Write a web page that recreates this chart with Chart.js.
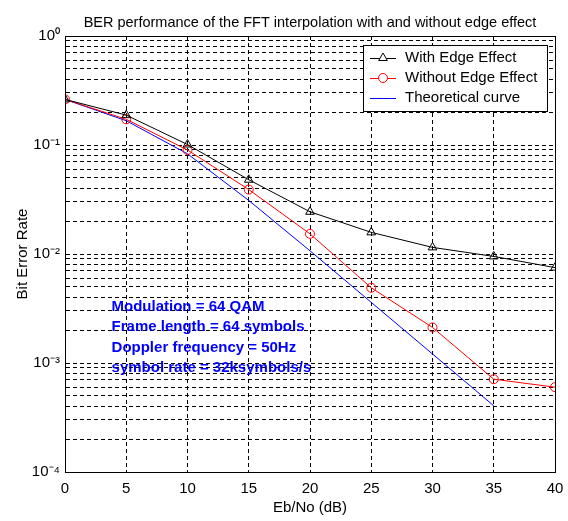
<!DOCTYPE html>
<html><head><meta charset="utf-8">
<script src="https://cdn.jsdelivr.net/npm/chart.js@4.4.0/dist/chart.umd.min.js"></script>
<style>html,body{margin:0;padding:0;background:#fff}#wrap{width:568px;height:521px}</style>
</head><body>
<div id="wrap"><canvas id="c" width="568" height="521"></canvas></div>
<script>
// ---- data ----
const ebno = [0, 5, 10, 15, 20, 25, 30, 35, 40];
const withEdge = [0.262, 0.188, 0.101, 0.048, 0.0244, 0.0158, 0.0115, 0.0095, 0.0075];
const withoutEdge = [0.262, 0.172, 0.090, 0.039, 0.0153, 0.0049, 0.00212, 0.00071, 0.0006];
const theoretical = [0.262, 0.167, 0.083, 0.031, 0.0107, 0.0036, 0.00121, 0.000405, null];
const xTickValues = [0, 5, 10, 15, 20, 25, 30, 35, 40];
const yDecades = [-4, -3, -2, -1];
const yMinorMultipliers = [1, 2, 3, 4, 5, 6, 7, 8, 9];
const seriesLabels = ['With Edge Effect', 'Without Edge Effect', 'Theoretical curve'];
const annotationLines = ['Modulation = 64 QAM', 'Frame length = 64 symbols', 'Doppler frequency = 50Hz', 'symbol rate = 32ksymbols/s'];
const chartTitle = 'BER performance of the FFT interpolation with and without edge effect';
const xTitle = 'Eb/No (dB)';
const yTitle = 'Bit Error Rate';

const FONT = "'Liberation Sans', Arial, Helvetica, sans-serif";
const SUP = {'0':'⁰','1':'¹','2':'²','3':'³','4':'⁴','5':'⁵','6':'⁶','7':'⁷','8':'⁸','9':'⁹','-':'⁻'};
function supStr(n){ return String(n).split('').map(c=>SUP[c]).join(''); }

const yTickValues = [];
yDecades.forEach(d => yMinorMultipliers.forEach(m => yTickValues.push(+(m * Math.pow(10, d)).toPrecision(6))));
yTickValues.push(1);

function pts(arr){ return ebno.map((x,i)=>({x:x, y:arr[i]})).filter(p=>p.y!==null); }

const colors = ['#000000', '#ff0000', '#0000ff'];
const styles = ['triangle', 'circle', false];

const boxPlugin = {
  id: 'boxAndText',
  afterDraw(chart) {
    const {ctx, chartArea: a, scales} = chart;
    ctx.save();
    // axes box
    ctx.strokeStyle = '#000'; ctx.lineWidth = 1; ctx.setLineDash([]);
    ctx.strokeRect(Math.round(a.left)+0.5, Math.round(a.top)+0.5, Math.round(a.right-a.left), Math.round(a.bottom-a.top));
    // title
    ctx.fillStyle = '#000';
    ctx.font = "14.5px " + FONT;
    ctx.textAlign = 'center'; ctx.textBaseline = 'alphabetic';
    ctx.fillText(chartTitle, (a.left + a.right) / 2, 26.5);
    // annotation text
    ctx.fillStyle = '#0000ff';
    ctx.font = "bold 15px " + FONT;
    ctx.textBaseline = 'middle'; ctx.textAlign = 'left';
    const tx = scales.x.getPixelForValue(3.8);
    const ty = scales.y.getPixelForValue(0.00327);
    annotationLines.forEach((t,i)=> ctx.fillText(t, tx, ty + i*20.4));
    // legend box
    const lx = a.right - 192, ly = a.top + 9, lw = 184, lh = 66;
    ctx.fillStyle = '#fff';
    ctx.fillRect(lx, ly, lw, lh);
    ctx.strokeStyle = '#000';
    ctx.strokeRect(Math.round(lx)+0.5, Math.round(ly)+0.5, lw, lh);
    ctx.font = "15px " + FONT;
    seriesLabels.forEach((lab,i)=>{
      const y = ly + 13 + i*20;
      ctx.strokeStyle = colors[i]; ctx.lineWidth = 1;
      ctx.beginPath(); ctx.moveTo(lx+7, y+0.5); ctx.lineTo(lx+33, y+0.5); ctx.stroke();
      if (styles[i]) {
        ctx.fillStyle = '#fff';
        Chart.helpers.drawPoint(ctx, {pointStyle: styles[i], radius: i===0?5:4.5, borderWidth:1, rotation:0}, lx+20, y);
      }
      ctx.fillStyle = '#000';
      ctx.fillText(lab, lx + 42, y);
    });
    ctx.restore();
  }
};

new Chart(document.getElementById('c'), {
  type: 'line',
  data: {
    datasets: [
      {label: seriesLabels[0], data: pts(withEdge), borderColor: colors[0], borderWidth: 1,
       pointStyle: 'triangle', pointRadius: 5, pointBorderColor: colors[0], pointBackgroundColor: 'rgba(0,0,0,0)', pointBorderWidth: 1},
      {label: seriesLabels[1], data: pts(withoutEdge), borderColor: colors[1], borderWidth: 1,
       pointStyle: 'circle', pointRadius: 4.5, pointBorderColor: colors[1], pointBackgroundColor: 'rgba(0,0,0,0)', pointBorderWidth: 1},
      {label: seriesLabels[2], data: pts(theoretical), borderColor: colors[2], borderWidth: 1, pointRadius: 0}
    ]
  },
  options: {
    responsive: false,
    animation: false,
    devicePixelRatio: 1,
    layout: {padding: {left: 0, right: 13, top: 36, bottom: 0}},
    plugins: {
      legend: {display: false},
      tooltip: {enabled: false},
      title: {display: false}
    },
    scales: {
      x: {
        type: 'linear', min: 0, max: 40,
        afterBuildTicks: s => { s.ticks = xTickValues.map(v=>({value:v})); },
        afterFit: s => { s.height = 49; s.paddingLeft = 0; s.paddingRight = 0; },
        ticks: {color: '#000', font: {family: FONT, size: 15}, padding: 8, maxRotation: 0, autoSkip: false},
        grid: {color: '#000', lineWidth: 1, drawTicks: false},
        border: {display: true, color: '#000', dash: [4, 3]},
        title: {display: true, text: xTitle, color: '#000', font: {family: FONT, size: 15}, padding: {top: 0, bottom: 4}}
      },
      y: {
        type: 'logarithmic', min: 1e-4, max: 1,
        afterBuildTicks: s => { s.ticks = yTickValues.map(v=>({value:v})); },
        afterFit: s => { s.width = 65; s.paddingTop = 0; s.paddingBottom = 0; },
        ticks: {color: '#000', font: {family: FONT, size: 15}, padding: 5, autoSkip: false,
          callback: (v) => { const e = Math.log10(v); const r = Math.round(e); return Math.abs(e-r) < 1e-6 ? '10' + supStr(r) : ''; }},
        grid: {color: '#000', lineWidth: 1, drawTicks: false},
        border: {display: true, color: '#000', dash: [4, 3]},
        title: {display: true, text: yTitle, color: '#000', font: {family: FONT, size: 15}, padding: {top: 14, bottom: 0}}
      }
    }
  },
  plugins: [boxPlugin]
});
</script>
</body></html>
